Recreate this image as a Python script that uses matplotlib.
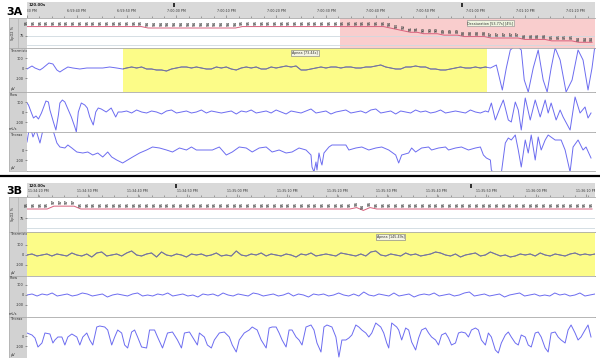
import numpy as np
import matplotlib
matplotlib.use('Agg')
import matplotlib.pyplot as plt

# ── Style ─────────────────────────────────────────────────────────────
FW, FH = 600, 358          # canvas in px
T_END = 114.0              # visible seconds in each epoch window
COL_GRAY = '#d2d2d2'
HEAD_GRAY = '#d9d9d9'
SEP = '#aaaaaa'
TRACE = '#6c6cf0'
TRACE_DIM = '#7a7a88'
YELLOW = '#fcfc88'
PINK = '#f9cdcd'
SPO2_LINE = '#d8607c'
GRID = '#cfd9df'
TXT = '#2e2e2e'
SMALL = 2.5

# ── Data: panel 3A ────────────────────────────────────────────────────
a_label_t = [0, 10, 20, 30, 40, 50, 60, 70, 80, 90, 100, 110]
a_label_txt = ['6:59:30 PM', '6:59:40 PM', '6:59:50 PM', '7:00:00 PM', '7:00:10 PM',
               '7:00:20 PM', '7:00:30 PM', '7:00:40 PM', '7:00:50 PM', '7:01:00 PM',
               '7:01:10 PM', '7:01:20 PM']
a_marker_t = [29.6, 87.4]

a_spo2 = [95, 95, 95, 95, 95, 95, 95, 95, 95, 95, 95, 95, 95, 95, 95, 95, 95,
          95, 94, 94, 94, 94, 94, 94, 94, 94, 94, 94, 94, 94, 94, 94, 95, 95,
          95, 95, 95, 95, 95, 95, 95, 95, 95, 95, 95, 95, 95, 95, 95, 95, 95,
          95, 95, 95, 94, 93, 92, 91, 91, 90, 90, 90, 89, 89, 89, 88, 88, 88,
          88, 87, 87, 87, 87, 87, 86, 86, 86, 86, 85, 85, 85, 85, 84, 84, 84]

a_apnea = (19.2, 92.4, 'Apnea [73.44s]', 55.8)
a_desat = (62.8, T_END, 'Desaturation [53.77s] [4%]', 93.0)

# thermistor: (seconds, µV)
a_therm_pre = [(0, -10), (1, 20), (1.6, 0), (2.6, -20), (3.2, 0), (4.4, 50), (5.2, 40),
               (6, -20), (6.6, -40), (7.2, -20), (8.2, 10), (9.2, 0), (10.6, -10),
               (12, 0), (14, 0), (15.2, 0), (16.6, 10), (18, 0), (19.2, -10)]
a_therm_mid = [0, 10, 0, 10, -10, -10, -20, -20, -30, -10, 0, 10, 10, 0, 10, 0, -10,
               -10, 10, 0, 10, -10, -20, 0, 10, 0, 10, -10, -10, 10, 0, 10, 20, 10,
               20, -20, -20, -10, 0, 10, 0, 10, 10, 0, 10, 10, 0, 0, 10, 10, 20, 30,
               10, 0, -10, -10, 10, 10, 20, 10, 10, -10, -10, -20, -20, -10, 0, 10,
               0, 0, 10, 0, 10]
a_therm_post = [(93, 0), (94.2, 30), (95.4, -220), (96.2, 0), (97, 180), (98.2, 230),
                (99.2, 180), (99.8, -120), (100.6, -240), (101.6, 0), (102.6, 180),
                (103.6, -120), (104.4, -240), (105.2, 0), (106, 200), (107, 80),
                (108.2, -240), (109.4, -120), (110.6, 180), (111.6, 80), (112.6, -220),
                (113.4, 0), (114, 230)]

# flow: (seconds, mL/s)
a_flow_pre = [(0, 90), (0.3, 70), (0.9, -10), (1.3, -60), (1.8, -40), (2.3, -70),
              (2.9, -10), (3.8, 110), (4.3, 100), (4.6, 20), (5.3, -100), (5.8, -180),
              (6.3, -30), (6.6, 90), (7.1, 120), (7.6, 100), (8.3, 20), (8.9, -50),
              (9.6, -150), (9.9, -200), (10.3, 0), (10.9, 90), (11.6, 70), (12.1, 40),
              (12.6, -50), (13.3, -130), (13.8, 0), (14.3, 40), (14.9, 30), (15.9, 0),
              (16.9, 40), (17.8, -50), (18.3, 0)]
a_flow_mid = [0, 10, -10, 20, 0, -10, 10, 0, -20, 10, 20, -10, 0, 10, -10, 0, 20, -10,
              10, 0, -10, 0, 10, -20, 10, 0, 20, -10, 0, 10, -10, 20, 0, -20, 10, 0,
              -10, 10, 30, -10, 0, 10, -20, 0, 10, 20, -10, 0, 10, -10, 20, 30, -10,
              0, 10, -20, 10, 0, -10, 20, 0, 10, -10, 0, 20, -10, 0, 10, 0, -10, 20,
              0, -10, 10]
a_flow_post = [(92.6, 0), (93.2, 90), (94, -80), (95, 50), (95.6, 120), (96.6, -80),
               (97.2, -100), (98, 100), (98.6, 20), (99.2, -180), (100, 140),
               (101, -80), (102, 120), (103, -50), (104, 120), (104.6, -10), (105.2, 90),
               (106.2, -80), (107, 20), (107.6, -50), (109, -180), (110, 150),
               (111, -10), (112, 50), (112.6, -60), (113.2, -10)]

# thorax: (seconds, µV)
a_thorax = [(0, 80), (0.4, 200), (1, 170), (1.2, 130), (1.8, 200), (2.6, 70), (3.2, 200),
            (4.6, 200), (5.2, 200), (6, 70), (6.6, 30), (7.6, 20), (8.2, 50), (9, 20),
            (10, -20), (11.2, -30), (12.2, -20), (13.2, -50), (14.2, -30), (15.2, -70),
            (16.2, -20), (17, -70), (18, -100), (19.2, -130), (20.2, -100), (21.2, -70),
            (22.6, -30), (24, 0), (25.2, 30), (26.6, 20), (28, 0), (29.2, -20),
            (30.6, 20), (32, 0), (33, 30), (34, 0), (36, 0), (37.2, 0), (38.6, 30),
            (40, -50), (41.2, -20), (42.6, 30), (44, 20), (45.2, -20), (46.6, 20),
            (48, 30), (49.2, -20), (50.6, 0), (52, -30), (53.2, -20), (54.6, 20),
            (56, 0), (57, -50), (57.2, -170), (57.6, -220), (58, -120), (58.2, -200),
            (58.6, -30), (59, -120), (59.2, -150), (59.6, -30), (60.6, 30), (61.2, 50),
            (62.6, 50), (64, 50), (64.6, 0), (66, 20), (67.2, 30), (68.6, 0), (70, 20),
            (71.2, 30), (72.6, 0), (74, -50), (74.6, -130), (75.2, -50), (76.6, -30),
            (77.2, 20), (78, -20), (79.2, 20), (80.6, 30), (81.2, 0), (82.6, 20),
            (84, 30), (84.6, 0), (86, 20), (87.2, 30), (88.6, 0), (90, 20), (91, 30),
            (91.6, -50), (92.2, -80), (93, -100), (93.2, -200), (93.6, -230),
            (95.2, -230), (96, 70), (96.6, 120), (97.2, 100), (98, 150), (98.6, 0),
            (99.2, -170), (100, 100), (100.6, -30), (101.2, 150), (102, -100),
            (102.6, 130), (103.2, 0), (104, 100), (104.6, 150), (106, 100), (107.2, 100),
            (108, 0), (109, -220), (109.6, 30), (110.6, 100), (111.6, 0), (112.2, 30),
            (113.2, -80)]

# ── Data: panel 3B ────────────────────────────────────────────────────
b_label_t = [2.2, 12.2, 22.2, 32.2, 42.2, 52.2, 62.2, 72.2, 82.2, 92.2, 102.2, 112.2]
b_label_txt = ['11:34:20 PM', '11:34:30 PM', '11:34:40 PM', '11:34:50 PM', '11:35:00 PM',
               '11:35:10 PM', '11:35:20 PM', '11:35:30 PM', '11:35:40 PM', '11:35:50 PM',
               '11:36:00 PM', '11:36:10 PM']
b_marker_t = [30.0, 89.2]

b_spo2 = [95, 95, 95, 95, 97, 97, 97, 97, 95, 95, 95, 95, 95, 95, 95, 95, 95,
          95, 95, 95, 95, 95, 95, 95, 95, 95, 95, 95, 95, 95, 95, 95, 95, 95,
          95, 95, 95, 95, 95, 95, 95, 95, 95, 95, 95, 95, 95, 95, 95, 96, 94,
          96, 95, 95, 95, 95, 95, 95, 95, 95, 95, 95, 95, 95, 95, 95, 95, 95,
          95, 95, 95, 95, 95, 95, 95, 95, 95, 95, 95, 95, 95, 95, 95, 95, 95]

b_apnea = (0, T_END, 'Apnea [145.49s]', 73.0)

b_therm = [0, 10, -10, 0, 10, -10, 10, 0, -10, 20, 0, -10, 10, -20, 20, 30, -10, 0, 10,
           -10, 20, 40, 0, -10, 10, 20, -20, 30, 0, -10, 10, 0, -20, 10, 0, 10, -10, 0,
           20, -10, 0, -10, 40, 0, -10, 10, 0, 20, -10, 10, 0, -10, 10, 0, -20, 10, 0,
           20, -10, 0, 10, 0, -10, 20, 10, 0, -10, 10, -10, 30, 40, 0, -10, 10, 0, -10,
           20, 0, 10, -10, 0, 10, 30, 20, 0, -10, 10, -20, 0, 10, 20, -10, 0, 30, 10,
           -10, 0, -20, -10, 10, 0, 10, -10, 20, 0, -10, 10, 0, -10, 10, 20, 0, 10, 0, 10]
b_flow = [0, 10, -10, 10, 0, 20, -10, 0, 10, -10, 0, 20, 10, -10, 0, 10, -20, 0, 10, 0,
          -10, 10, 20, -10, 0, -10, 10, 0, 20, -10, 0, 10, -10, 0, -20, 10, 0, 10, -10,
          20, 0, -10, 10, 0, -10, 20, 10, -10, 0, 10, -10, 0, 20, -10, 10, 0, -20, 10, 0,
          10, -10, 0, 20, 0, -10, 10, -10, 30, 0, -10, 10, 0, -10, 20, -10, 0, 10, -20,
          0, 10, 0, 20, -10, 0, 10, -10, 0, 20, 30, -10, 0, 10, -10, 0, 10, -20, 0, 10,
          20, -10, 0, 10, -10, 0, -10, 20, 0, 10, -10, 0, 20, -10, 0, 10]
b_thorax = [(0, 30), (1, 10), (1.6, -20), (2.2, -110), (3, -70), (3.6, 30), (4.6, 20),
            (5.2, -70), (5.6, -40), (6.2, -10), (7, -10), (7.6, -90), (8.2, -10), (9, 20),
            (10, -10), (10.6, -90), (11.2, -10), (12, 30), (12.6, -40), (13.2, -90),
            (14, 90), (14.6, 100), (15.6, 90), (16.2, 60), (17, -90), (17.6, -10),
            (18.2, 60), (19, 30), (19.6, -90), (20.2, -120), (21, 40), (21.6, 60),
            (22.2, -10), (23, -110), (24, -120), (24.6, 60), (25.6, 60), (26.2, -10),
            (27.2, -120), (28.2, 30), (29.2, 40), (30.2, -40), (31, -120), (31.6, 30),
            (32.6, 40), (33.6, -40), (34.2, -90), (34.6, 30), (35.6, -10), (36.2, -90),
            (37, -120), (37.6, -40), (38.6, 30), (39.6, 40), (40.6, -10), (41.2, -90),
            (42, -160), (42.6, -40), (43.6, 30), (44.6, 60), (45.2, 90), (46.2, 60),
            (47, -40), (48, -120), (48.6, 80), (49.2, 90), (50, 90), (50.6, 30),
            (51.2, -40), (52, -110), (52.6, 60), (53.2, 60), (54, -10), (54.6, -40),
            (55.2, -90), (56, 90), (57, 110), (57.6, 60), (58.2, -70), (59, -160),
            (59.6, 90), (60.2, 110), (61.2, 90), (62, -10), (62.6, -210), (63.2, -40),
            (64, -40), (64.6, -20), (65.2, 10), (66, 110), (66.6, 90), (67.2, 60),
            (68, 30), (68.6, -10), (69.2, 30), (70, 130), (71, 90), (71.6, 30),
            (72.2, -70), (72.6, -120), (73.2, 130), (74.2, 90), (74.6, 60), (75.2, -40),
            (76, 80), (76.6, 60), (77.2, -60), (78, -140), (78.6, -20), (79.2, 60),
            (80, 80), (80.6, 30), (81.2, -10), (82, -40), (82.6, -90), (83.2, 10),
            (84, 30), (84.6, -20), (85.2, -90), (86, -70), (86.6, 30), (87.2, 40),
            (88, 30), (88.6, -10), (89.2, 60), (90, 80), (90.6, 60), (91.2, -40),
            (92, -90), (92.6, 30), (93.2, -10), (94, -140), (94.6, -170), (95.2, -70),
            (96, 10), (96.6, 40), (97.2, -10), (98, -70), (98.6, -90), (99.2, 10),
            (100, -10), (100.6, -90), (101.2, -110), (102, 30), (102.6, 40), (103.2, -10),
            (104, -120), (104.6, -160), (105.2, 30), (106, 40), (106.6, -10), (107.2, -40),
            (108, -70), (108.6, 60), (109.2, 110), (110, 30), (110.6, -40), (111.2, -10),
            (112, 60), (112.6, 110), (113.2, -10)]


# ── Helpers ───────────────────────────────────────────────────────────
fig = plt.figure(figsize=(6, 3.58), dpi=100)
fig.patch.set_facecolor('white')


def box(x0, y0, x1, y1):
    """pixel box (top-left origin) -> figure fraction rect"""
    return [x0 / FW, 1 - y1 / FH, (x1 - x0) / FW, (y1 - y0) / FH]


def pairs(p):
    a = np.array(p, dtype=float)
    return a[:, 0], a[:, 1]


def header(y0, y1, label_t, label_txt, marker_t):
    ax = fig.add_axes(box(27, y0, 595, y1))
    ax.set_xlim(0, T_END)
    ax.set_ylim(0, 1)
    ax.set_facecolor(HEAD_GRAY)
    for s in ax.spines.values():
        s.set_visible(False)
    ax.set_yticks([])
    ax.set_xticks(label_t)
    ax.set_xticklabels([])
    ax.set_xticks(np.arange(0, T_END, 2.5), minor=True)
    ax.tick_params(axis='x', which='both', direction='in', color='#666', width=0.4, pad=0)
    ax.tick_params(axis='x', which='major', length=2.5)
    ax.tick_params(axis='x', which='minor', length=1.2)
    ax.text(0.4, 0.8, '120.00s', fontsize=2.8, fontweight='bold', color='#222',
            ha='left', va='center')
    for t, s in zip(label_t, label_txt):
        ax.text(t, 0.42, s, fontsize=2.3, ha='center', va='center', color='#333', clip_on=True)
    ax.plot(marker_t, [0.82] * len(marker_t), ls='none', marker='|', ms=3, mew=1.2, color='#111')


def label_column(y0, y1, rows, spo2_rows):
    ax = fig.add_axes(box(9, y0, 27, y1))
    ax.set_xlim(9, 27)
    ax.set_ylim(y1, y0)
    ax.set_facecolor(COL_GRAY)
    ax.set_xticks([])
    ax.set_yticks([])
    for s in ax.spines.values():
        s.set_color(SEP)
        s.set_linewidth(0.5)
    top, bot = spo2_rows
    ax.axhline(bot, color=SEP, lw=0.6)
    ax.plot([18, 18], [top, bot], color=SEP, lw=0.4)
    ax.text(13, (top + bot) / 2, 'SpO2 %', rotation=90, fontsize=SMALL, ha='center',
            va='center', color=TXT)
    for top, bot, name, unit in rows:
        ax.axhline(bot, color=SEP, lw=0.6)
        ax.text(10, top + 2.5, name, fontsize=SMALL, ha='left', va='center', color=TXT)
        ax.text(13, bot - 3, unit, fontsize=SMALL, ha='center', va='center', color=TXT)


def signal_row(y0, y1, ylim, ticks, ticklabels):
    ax = fig.add_axes(box(27, y0, 595, y1))
    ax.set_xlim(0, T_END)
    ax.set_ylim(*ylim)
    ax.set_facecolor('white')
    for s in ('left', 'right'):
        ax.spines[s].set_visible(False)
    for s in ('top', 'bottom'):
        ax.spines[s].set_color(SEP)
        ax.spines[s].set_linewidth(0.6)
    ax.set_xticks([])
    ax.set_yticks(ticks)
    ax.set_yticklabels(ticklabels, fontsize=SMALL, color=TXT)
    ax.tick_params(axis='y', length=1.5, width=0.4, pad=0.8, color='#555')
    return ax


def spo2_row(y0, y1, ylim, values, span=None):
    ax = signal_row(y0, y1, ylim, [88.5], ['75'])
    if span:
        s0, s1, txt, tx = span
        ax.axvspan(s0, s1, color=PINK, lw=0, zorder=0)
        ax.text(tx, 0.83, txt, transform=ax.get_xaxis_transform(), fontsize=2.4,
                ha='center', va='center', color='#333', zorder=5,
                bbox=dict(boxstyle='square,pad=0.25', fc='#eef5df', ec='#888', lw=0.4))
    ax.axhline(88.5, color=GRID, lw=0.6, zorder=1)
    ax.axhline(82, color=GRID, lw=0.6, zorder=1)
    t = np.linspace(0, 113.4, len(values))
    ax.plot(t, values, color=SPO2_LINE, lw=0.7, zorder=2)
    for ti, v in zip(t, values):
        ax.annotate(str(v), (ti, v), xytext=(0, 1.2), textcoords='offset points',
                    rotation=90, fontsize=2.6, fontweight='bold', ha='center',
                    va='bottom', color='#505050', annotation_clip=False)
    return ax


def trace(ax, t, v, span=None):
    ax.plot(t, v, color=TRACE, lw=0.7, zorder=2)
    if span:
        s0, s1, txt, tx = span
        rect = ax.axvspan(s0, s1, color=YELLOW, lw=0, zorder=0)
        dim, = ax.plot(t, v, color=TRACE_DIM, lw=0.7, zorder=3)
        dim.set_clip_path(rect)
        ax.text(tx, 0.89, txt, transform=ax.get_xaxis_transform(), fontsize=2.4,
                ha='center', va='center', color='#333', zorder=5,
                bbox=dict(boxstyle='square,pad=0.25', fc='#f4f4e4', ec='#777', lw=0.4))


def panel_letter(y, txt):
    fig.text(6 / FW, 1 - y / FH, txt, fontsize=8, fontweight='bold', ha='left', va='center')


# ── Panel 3A ──────────────────────────────────────────────────────────
panel_letter(12, '3A')
label_column(18, 171, [(48, 92, 'Thermistor', 'µV'), (92, 132, 'Flow', 'mL/s'),
                       (132, 171, 'Thorax', 'µV')], (18, 48))
header(2, 18, a_label_t, a_label_txt, a_marker_t)
spo2_row(18, 48, (80, 101), a_spo2, a_desat)

ax = signal_row(48, 92, (-240, 200), [100, 0, -100], ['100', '0', '-100'])
t0, v0 = pairs(a_therm_pre)
t2, v2 = pairs(a_therm_post)
t1 = np.linspace(20, 92, len(a_therm_mid))
trace(ax, np.concatenate([t0, t1, t2]), np.concatenate([v0, a_therm_mid, v2]), a_apnea)

ax = signal_row(92, 132, (-200, 200), [100, 0, -100], ['100', '0', '-100'])
t0, v0 = pairs(a_flow_pre)
t2, v2 = pairs(a_flow_post)
t1 = np.linspace(19, 92, len(a_flow_mid))
trace(ax, np.concatenate([t0, t1, t2]), np.concatenate([v0, a_flow_mid, v2]))

ax = signal_row(132, 171, (-210, 180), [0, -100], ['0', '-100'])
trace(ax, *pairs(a_thorax))

# separator between panels
fig.add_artist(plt.Line2D([0, 1], [1 - 176.5 / FH] * 2, color='black', lw=1.6))

# ── Panel 3B ──────────────────────────────────────────────────────────
panel_letter(191, '3B')
label_column(197, 358, [(232, 276, 'Thermistor', 'µV'), (276, 317, 'Flow', 'mL/s'),
                        (317, 358, 'Thorax', 'µV')], (197, 232))
header(183, 197, b_label_t, b_label_txt, b_marker_t)
spo2_row(197, 232, (78.9, 103.4), b_spo2)

ax = signal_row(232, 276, (-210, 230), [100, 0, -100], ['100', '0', '-100'])
trace(ax, np.linspace(0, T_END, len(b_therm)), b_therm, b_apnea)

ax = signal_row(276, 317, (-220, 190), [100, 0, -100], ['100', '0', '-100'])
trace(ax, np.linspace(0, T_END, len(b_flow)), b_flow)

ax = signal_row(317, 358, (-220, 190), [0, -100], ['0', '-100'])
trace(ax, *pairs(b_thorax))

fig.savefig('out.png', dpi=100, facecolor='white')
